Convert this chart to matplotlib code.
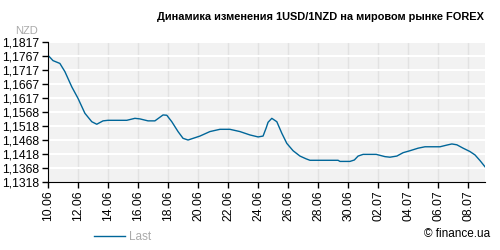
import numpy as np
import pandas as pd
import matplotlib
matplotlib.use('Agg')
import matplotlib.pyplot as plt
import matplotlib.dates as mdates

plt.rcParams['font.family'] = ['Liberation Sans', 'DejaVu Sans']

# USD/NZD quotes
times = ['2014-06-10 00:00', '2014-06-10 08:00', '2014-06-10 19:00', '2014-06-11 03:00',
         '2014-06-11 14:00', '2014-06-12 00:00', '2014-06-12 11:00', '2014-06-12 22:00',
         '2014-06-13 06:00', '2014-06-13 16:00', '2014-06-14 00:00', '2014-06-15 06:00',
         '2014-06-15 19:00', '2014-06-16 03:00', '2014-06-16 16:00', '2014-06-17 03:00',
         '2014-06-17 16:00', '2014-06-17 22:00', '2014-06-18 06:00', '2014-06-18 16:00',
         '2014-06-19 00:00', '2014-06-19 08:00', '2014-06-20 03:00', '2014-06-20 19:00',
         '2014-06-21 11:00', '2014-06-22 03:00', '2014-06-22 19:00', '2014-06-23 11:00',
         '2014-06-24 00:00', '2014-06-24 08:00', '2014-06-24 13:00', '2014-06-24 16:00',
         '2014-06-24 22:00', '2014-06-25 06:00', '2014-06-25 14:00', '2014-06-25 22:00',
         '2014-06-26 08:00', '2014-06-26 19:00', '2014-06-27 05:00', '2014-06-27 11:00',
         '2014-06-29 08:00', '2014-06-29 11:00', '2014-06-30 03:00', '2014-06-30 10:00',
         '2014-06-30 16:00', '2014-07-01 00:00', '2014-07-01 21:00', '2014-07-02 11:00',
         '2014-07-02 19:00', '2014-07-03 06:00', '2014-07-03 16:00', '2014-07-04 03:00',
         '2014-07-04 16:00', '2014-07-05 03:00', '2014-07-06 03:00', '2014-07-06 14:00',
         '2014-07-06 22:00', '2014-07-07 06:00', '2014-07-07 16:00', '2014-07-08 03:00',
         '2014-07-08 11:00', '2014-07-08 19:00', '2014-07-09 03:00']
values = [1.1769, 1.1750, 1.1740, 1.1711, 1.1657, 1.1616, 1.1563, 1.1533,
          1.1524, 1.1536, 1.1538, 1.1538, 1.1545, 1.1543, 1.1536, 1.1536,
          1.1557, 1.1556, 1.1533, 1.1498, 1.1474, 1.1468, 1.1482, 1.1498,
          1.1506, 1.1506, 1.1498, 1.1486, 1.1479, 1.1482, 1.1511, 1.1531,
          1.1545, 1.1533, 1.1492, 1.1456, 1.1430, 1.1411, 1.1401, 1.1396,
          1.1396, 1.1392, 1.1392, 1.1397, 1.1411, 1.1417, 1.1417, 1.1409,
          1.1407, 1.1411, 1.1423, 1.1430, 1.1439, 1.1444, 1.1444, 1.1450,
          1.1454, 1.1451, 1.1439, 1.1427, 1.1415, 1.1395, 1.1373]

yticks = [1.1318, 1.1368, 1.1418, 1.1468, 1.1518, 1.1568, 1.1617, 1.1667, 1.1717, 1.1767, 1.1817]
xticks = pd.date_range('2014-06-10', '2014-07-08', freq='2D')

t = pd.to_datetime(times)

fig = plt.figure(figsize=(5, 2.5), dpi=100)
ax = fig.add_axes([0.096, 0.271, 0.874, 0.562])
ax.set_facecolor('#f2f2f2')

ax.plot(t, values, color='#006699', lw=1.0)

ax.set_ylim(yticks[0], yticks[-1])
ax.set_xlim(pd.Timestamp('2014-06-10 00:00'), pd.Timestamp('2014-07-09 03:00'))
ax.set_yticks(yticks)
ax.set_yticklabels([('%.4f' % v).replace('.', ',') for v in yticks])
ax.set_xticks(xticks)
ax.xaxis.set_major_formatter(mdates.DateFormatter('%d.%m'))
plt.setp(ax.get_xticklabels(), rotation=90)

for v in yticks[1:]:
    ax.axhline(v, color='white', lw=1.5, zorder=0.5)
for d in xticks[1:]:
    ax.axvline(d, color='#e2e2e2', lw=1.0, zorder=0.4)

for s in ['top', 'right']:
    ax.spines[s].set_visible(False)
ax.spines['left'].set_color('black')
ax.spines['bottom'].set_color('black')
ax.tick_params(axis='both', length=4, width=1, color='black', labelsize=8.7, pad=2)

fig.text(0.968, 0.93, 'Динамика изменения 1USD/1NZD на мировом рынке FOREX',
         ha='right', va='center', fontsize=7.9, fontweight='bold')
fig.text(0.03, 0.875, 'NZD', color='#aaaaaa', fontsize=8, va='center')
fig.legend(['Last'], loc='center', bbox_to_anchor=(0.245, 0.05), frameon=False,
           fontsize=8.5, labelcolor='#aaaaaa', handlelength=2.6, handletextpad=0.3)
fig.text(0.98, 0.065, '© finance.ua', ha='right', va='center', fontsize=8.5)

fig.savefig('out.png', dpi=100)
